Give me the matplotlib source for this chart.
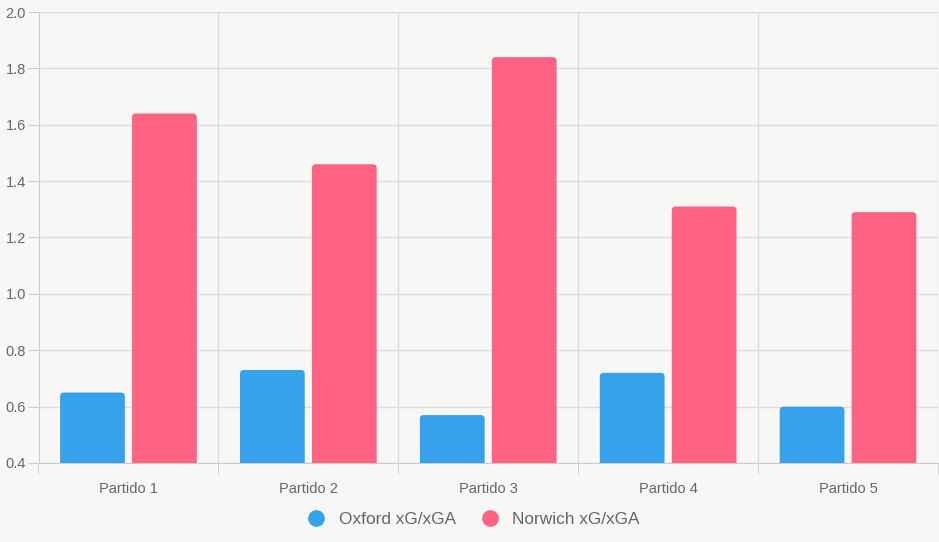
import matplotlib.pyplot as plt
from matplotlib.patches import FancyBboxPatch
from matplotlib.lines import Line2D

partidos = ["Partido 1", "Partido 2", "Partido 3", "Partido 4", "Partido 5"]
oxford = [0.65, 0.73, 0.57, 0.72, 0.60]
norwich = [1.64, 1.46, 1.84, 1.31, 1.29]

azul = "#36A2EB"
rosa = "#FF6384"
fondo = "#F7F7F5"
gris = "#666666"
rejilla = "#DDDDDD"

plt.rcParams['font.family'] = ['Liberation Sans', 'DejaVu Sans']

fig = plt.figure(figsize=(9.39, 5.42), dpi=100, facecolor=fondo)
ax = fig.add_axes([38.5 / 939, (542 - 463) / 542, 899.5 / 939, 451 / 542])
ax.set_facecolor(fondo)

ymin, ymax = 0.4, 2.0
ax.set_xlim(-0.5, len(partidos) - 0.5)
ax.set_ylim(ymin, ymax)

# barras con esquinas redondeadas (estilo Chart.js)
ancho = 0.36
radio_x = 0.022
aspecto = (4 / 282) / radio_x
for i, (o, n) in enumerate(zip(oxford, norwich)):
    for j, (v, c) in enumerate([(o, azul), (n, rosa)]):
        x0 = i - 0.4 + j * 0.4 + 0.02
        p = FancyBboxPatch((x0 + radio_x, 0.3), ancho - 2 * radio_x, v - 0.3 - radio_x * aspecto,
                           boxstyle=f"round,pad={radio_x}", mutation_aspect=aspecto,
                           facecolor=c, edgecolor="none", zorder=3, clip_on=True)
        ax.add_patch(p)

# rejilla
ax.set_yticks([0.4 + 0.2 * k for k in range(9)])
ax.set_yticklabels([f"{0.4 + 0.2 * k:.1f}" for k in range(9)])
ax.grid(axis='y', color=rejilla, lw=1, zorder=0)
for k in range(len(partidos) + 1):
    ax.axvline(k - 0.5, color=rejilla, lw=1, zorder=0)

ax.set_xticks(range(len(partidos)))
ax.set_xticklabels(partidos)
ax.set_xticks([k - 0.5 for k in range(len(partidos) + 1)], minor=True)
ax.tick_params(axis='x', which='major', length=0, pad=14, labelsize=10.5, colors=gris)
ax.tick_params(axis='x', which='minor', length=8, color="#CCCCCC")
ax.tick_params(axis='y', length=8, labelsize=10.5, colors=gris, pad=1)
ax.tick_params(axis='y', color="#CCCCCC")

for s in ['top', 'right']:
    ax.spines[s].set_visible(False)
for s in ['left', 'bottom']:
    ax.spines[s].set_color("#CCCCCC")

handles = [Line2D([], [], marker='o', ls='none', color=azul, markersize=11),
           Line2D([], [], marker='o', ls='none', color=rosa, markersize=11)]
fig.legend(handles, ["Oxford xG/xGA", "Norwich xG/xGA"], loc='center',
           bbox_to_anchor=(0.5, 1 - 519 / 542), ncol=2, frameon=False,
           fontsize=12.4, labelcolor=gris, handletextpad=0.3, columnspacing=1.0)

fig.savefig("out.png", dpi=100, facecolor=fondo)
